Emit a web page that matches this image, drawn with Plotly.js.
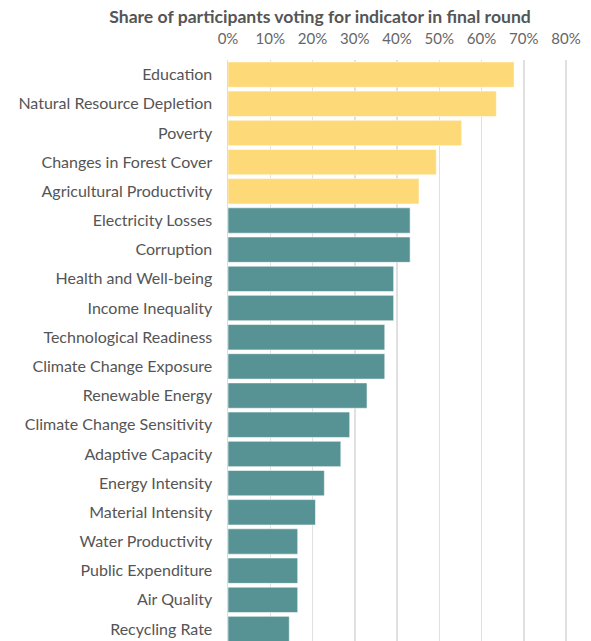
<!DOCTYPE html>
<html>
<head>
<meta charset="utf-8">
<script src="https://cdn.plot.ly/plotly-3.0.1.min.js"></script>
<style>html,body{margin:0;padding:0;background:#fff;}#chart{width:591px;height:641px;}</style>
</head>
<body>
<div id="chart"></div>
<script>
const categories = [
  "Education", "Natural Resource Depletion", "Poverty", "Changes in Forest Cover",
  "Agricultural Productivity", "Electricity Losses", "Corruption", "Health and Well-being",
  "Income Inequality", "Technological Readiness", "Climate Change Exposure", "Renewable Energy",
  "Climate Change Sensitivity", "Adaptive Capacity", "Energy Intensity", "Material Intensity",
  "Water Productivity", "Public Expenditure", "Air Quality", "Recycling Rate"
];
const shares = [
  0.677, 0.635, 0.553, 0.493, 0.452, 0.431, 0.431, 0.392, 0.392, 0.371,
  0.371, 0.329, 0.288, 0.267, 0.228, 0.207, 0.165, 0.165, 0.165, 0.145
];
const groups = [
  "top", "top", "top", "top", "top", "other", "other", "other", "other", "other",
  "other", "other", "other", "other", "other", "other", "other", "other", "other", "other"
];
const tickValues = [0, 0.1, 0.2, 0.3, 0.4, 0.5, 0.6, 0.7, 0.8];
const tickLabels = ["0%", "10%", "20%", "30%", "40%", "50%", "60%", "70%", "80%"];

const colorMap = { top: "#FDD978", other: "#579395" };

const trace = {
  type: "bar",
  orientation: "h",
  y: categories,
  x: shares,
  marker: {
    color: groups.map(g => colorMap[g]),
    line: { color: "rgba(255,255,255,0.55)", width: 1 }
  },
  hoverinfo: "skip"
};

const layout = {
  width: 591,
  height: 641,
  margin: { l: 228, r: 11, t: 60, b: 0, pad: 0 },
  paper_bgcolor: "#ffffff",
  plot_bgcolor: "#ffffff",
  bargap: 0.13,
  showlegend: false,
  font: { family: "Lato, 'Open Sans', sans-serif", color: "#555555" },
  title: {
    text: "<b>Share of participants voting for indicator in final round</b>",
    font: { family: "Lato, sans-serif", size: 17.6, color: "#555555" },
    x: 0.5415, xref: "container", xanchor: "center",
    y: 0.974, yref: "container", yanchor: "middle"
  },
  xaxis: {
    side: "top",
    range: [0, 0.833],
    tickvals: tickValues,
    ticktext: tickLabels,
    tickfont: { family: "Lato, sans-serif", size: 15, color: "#666666" },
    ticks: "",
    ticklabelstandoff: 12,
    showgrid: true,
    gridcolor: "#e0e0e0",
    gridwidth: 1.5,
    zeroline: false,
    showline: false,
    fixedrange: true
  },
  yaxis: {
    type: "category",
    categoryorder: "array",
    categoryarray: categories,
    range: [19.41, -0.5],
    tickfont: { family: "Lato, sans-serif", size: 16, color: "#555555" },
    ticks: "",
    ticklabelstandoff: 11,
    showgrid: false,
    zeroline: false,
    showline: true,
    linecolor: "#dcdcdc",
    linewidth: 1.5,
    fixedrange: true
  }
};

Plotly.newPlot("chart", [trace], layout, { displayModeBar: false, staticPlot: true });
</script>
</body>
</html>
